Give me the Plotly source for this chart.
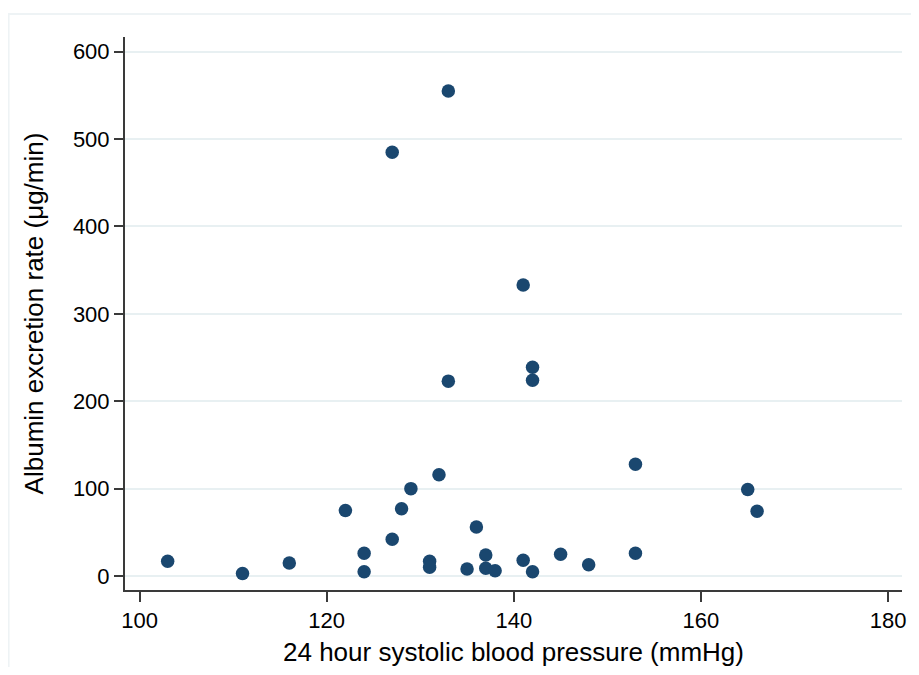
import plotly.graph_objects as go

# 24 hour systolic blood pressure (mmHg)
sbp = [103, 111, 116, 122, 124, 124, 127, 127, 128, 129, 131, 131, 132, 133, 133,
       135, 136, 137, 137, 138, 141, 141, 142, 142, 142, 145, 148, 153, 153, 165, 166]
# Albumin excretion rate (µg/min)
aer = [17, 3, 15, 75, 26, 5, 485, 42, 77, 100, 17, 10, 116, 555, 223,
       8, 56, 24, 9, 6, 333, 18, 239, 224, 5, 25, 13, 128, 26, 99, 74]

x_ticks = [100, 120, 140, 160, 180]
y_ticks = [0, 100, 200, 300, 400, 500, 600]

FONT = "Liberation Sans, Arial, sans-serif"
NAVY = "#1a476f"
GRID = "#e8f0f2"
AXIS = "#3a3a3a"

W, H = 903, 659
L, R, T, B = 117, 5, 29, 77
PW = W - L - R
PH = H - T - B

fig = go.Figure()
fig.add_trace(go.Scatter(
    x=sbp, y=aer, mode="markers",
    marker=dict(size=13.5, color=NAVY, line=dict(width=0)),
    hoverinfo="x+y", showlegend=False,
))

fig.update_layout(
    width=W, height=H,
    margin=dict(l=L, r=R, t=T, b=B),
    paper_bgcolor="white", plot_bgcolor="white",
    font=dict(family=FONT, color="#000000", size=22),
    xaxis=dict(
        range=[98.44, 181.49], tickvals=x_ticks, ticktext=[str(v) for v in x_ticks],
        showgrid=False, zeroline=False,
        showline=True, linecolor=AXIS, linewidth=2,
        ticks="outside", ticklen=10, tickwidth=1.5, tickcolor=AXIS,
        tickfont=dict(size=22, family=FONT, color="#000"),
        title=dict(text="24 hour systolic blood pressure (mmHg)",
                   font=dict(size=26, family=FONT, color="#000"), standoff=10),
        fixedrange=True,
    ),
    yaxis=dict(
        range=[-16, 616.8], tickvals=y_ticks, ticktext=[str(v) for v in y_ticks],
        showgrid=True, gridcolor=GRID, gridwidth=1.5, zeroline=False,
        showline=True, linecolor=AXIS, linewidth=2,
        ticks="outside", ticklen=9, tickwidth=1.5, tickcolor=AXIS,
        tickfont=dict(size=22, family=FONT, color="#000"),
        ticklabelstandoff=0,
        title=dict(text="Albumin excretion rate (μg/min)",
                   font=dict(size=26, family=FONT, color="#000"), standoff=22),
        fixedrange=True,
    ),
    shapes=[dict(
        type="rect", xref="paper", yref="paper",
        x0=(0 - L) / PW, x1=(W + 20 - L) / PW,
        y0=-(H + 20 - (H - B)) / PH, y1=(PH + T - 6) / PH,
        line=dict(color="#eef3f5", width=2), fillcolor="rgba(0,0,0,0)", layer="below",
    )],
)

fig.write_html("out.html")
